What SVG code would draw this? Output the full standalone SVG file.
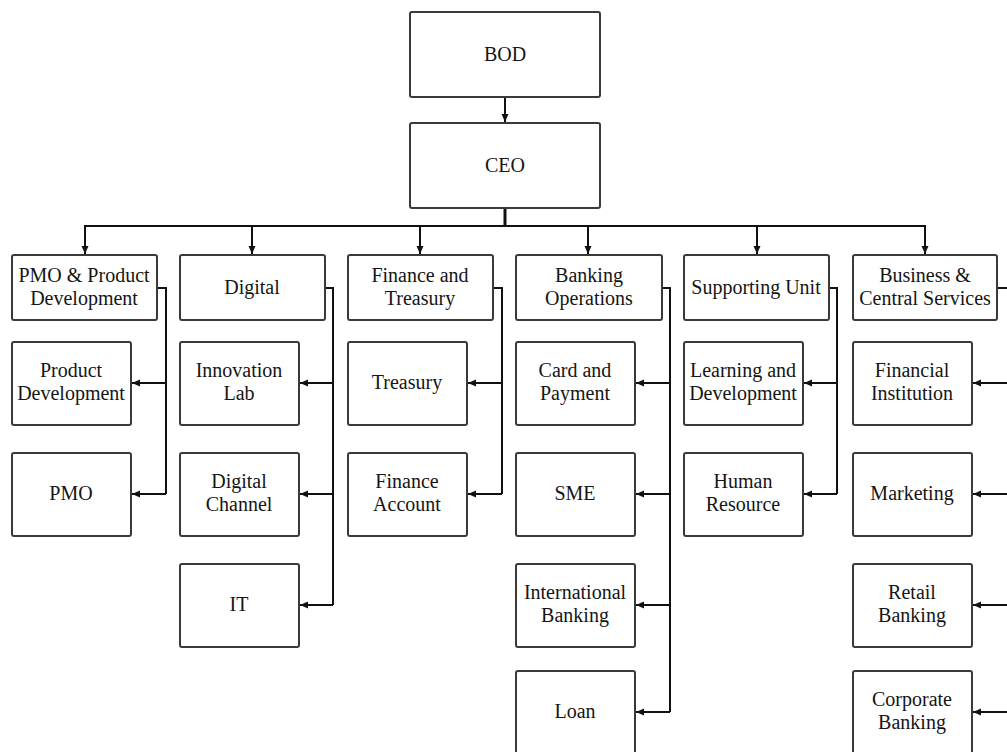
<svg xmlns="http://www.w3.org/2000/svg" width="1007" height="752" viewBox="0 0 1007 752">
<style>
.box{fill:#fff;stroke:#3a3a3a;stroke-width:2}
.t{font-family:"Liberation Serif","Times New Roman",serif;font-size:20px;fill:#151515;text-anchor:middle}
.c{fill:none;stroke:#111;stroke-width:2}
</style>
<defs>
<marker id="ah" markerUnits="userSpaceOnUse" markerWidth="9" markerHeight="8" refX="8" refY="3.5" orient="auto">
<path d="M0,0 L8,3.5 L0,7 z" fill="#111"/>
</marker>
</defs>
<rect width="1007" height="752" fill="#fff"/>
<g id="connectors">
<line class="c" x1="505" y1="97" x2="505" y2="122" marker-end="url(#ah)"/>
<line x1="505" y1="208" x2="505" y2="226" stroke="#111" stroke-width="3"/>
<line class="c" x1="84" y1="226" x2="926" y2="226"/>
<line class="c" x1="85" y1="226" x2="85" y2="254" marker-end="url(#ah)"/>
<line class="c" x1="252" y1="226" x2="252" y2="254" marker-end="url(#ah)"/>
<line class="c" x1="420" y1="226" x2="420" y2="254" marker-end="url(#ah)"/>
<line class="c" x1="588" y1="226" x2="588" y2="254" marker-end="url(#ah)"/>
<line class="c" x1="757" y1="226" x2="757" y2="254" marker-end="url(#ah)"/>
<line class="c" x1="925" y1="226" x2="925" y2="254" marker-end="url(#ah)"/>
<polyline class="c" points="157,288 166,288 166,494"/>
<line class="c" x1="166" y1="383" x2="132" y2="383" marker-end="url(#ah)"/>
<line class="c" x1="166" y1="494" x2="132" y2="494" marker-end="url(#ah)"/>
<polyline class="c" points="325,288 333,288 333,605"/>
<line class="c" x1="333" y1="383" x2="300" y2="383" marker-end="url(#ah)"/>
<line class="c" x1="333" y1="494" x2="300" y2="494" marker-end="url(#ah)"/>
<line class="c" x1="333" y1="605" x2="300" y2="605" marker-end="url(#ah)"/>
<polyline class="c" points="493,288 502,288 502,494"/>
<line class="c" x1="502" y1="383" x2="468" y2="383" marker-end="url(#ah)"/>
<line class="c" x1="502" y1="494" x2="468" y2="494" marker-end="url(#ah)"/>
<polyline class="c" points="662,288 670,288 670,712"/>
<line class="c" x1="670" y1="383" x2="636" y2="383" marker-end="url(#ah)"/>
<line class="c" x1="670" y1="494" x2="636" y2="494" marker-end="url(#ah)"/>
<line class="c" x1="670" y1="605" x2="636" y2="605" marker-end="url(#ah)"/>
<line class="c" x1="670" y1="712" x2="636" y2="712" marker-end="url(#ah)"/>
<polyline class="c" points="829,288 837,288 837,494"/>
<line class="c" x1="837" y1="383" x2="804" y2="383" marker-end="url(#ah)"/>
<line class="c" x1="837" y1="494" x2="804" y2="494" marker-end="url(#ah)"/>
<polyline class="c" points="997,288 1015,288 1015,712"/>
<line class="c" x1="1015" y1="383" x2="973" y2="383" marker-end="url(#ah)"/>
<line class="c" x1="1015" y1="494" x2="973" y2="494" marker-end="url(#ah)"/>
<line class="c" x1="1015" y1="605" x2="973" y2="605" marker-end="url(#ah)"/>
<line class="c" x1="1015" y1="712" x2="973" y2="712" marker-end="url(#ah)"/>
</g>
<g id="bod"><rect class="box" x="410" y="12" width="190" height="85" rx="2"/><text class="t" x="505" y="61">BOD</text></g>
<g id="ceo"><rect class="box" x="410" y="123" width="190" height="85" rx="2"/><text class="t" x="505" y="172">CEO</text></g>

<g id="pmo-product"><rect class="box" x="12" y="255" width="145" height="65" rx="2"/><text class="t" x="84" y="282">PMO &amp; Product</text><text class="t" x="84" y="305">Development</text></g>
<g id="digital"><rect class="box" x="180" y="255" width="145" height="65" rx="2"/><text class="t" x="252" y="294">Digital</text></g>
<g id="finance-treasury"><rect class="box" x="348" y="255" width="145" height="65" rx="2"/><text class="t" x="420" y="282">Finance and</text><text class="t" x="420" y="305">Treasury</text></g>
<g id="banking-operations"><rect class="box" x="516" y="255" width="146" height="65" rx="2"/><text class="t" x="589" y="282">Banking</text><text class="t" x="589" y="305">Operations</text></g>
<g id="supporting-unit"><rect class="box" x="684" y="255" width="145" height="65" rx="2"/><text class="t" x="756" y="294">Supporting Unit</text></g>
<g id="business-central"><rect class="box" x="853" y="255" width="144" height="65" rx="2"/><text class="t" x="925" y="282">Business &amp;</text><text class="t" x="925" y="305">Central Services</text></g>

<g id="product-development"><rect class="box" x="12" y="342" width="119" height="83" rx="2"/><text class="t" x="71" y="377">Product</text><text class="t" x="71" y="400">Development</text></g>
<g id="pmo"><rect class="box" x="12" y="453" width="119" height="83" rx="2"/><text class="t" x="71" y="500">PMO</text></g>

<g id="innovation-lab"><rect class="box" x="180" y="342" width="119" height="83" rx="2"/><text class="t" x="239" y="377">Innovation</text><text class="t" x="239" y="400">Lab</text></g>
<g id="digital-channel"><rect class="box" x="180" y="453" width="119" height="83" rx="2"/><text class="t" x="239" y="488">Digital</text><text class="t" x="239" y="511">Channel</text></g>
<g id="it"><rect class="box" x="180" y="564" width="119" height="83" rx="2"/><text class="t" x="239" y="611">IT</text></g>

<g id="treasury"><rect class="box" x="348" y="342" width="119" height="83" rx="2"/><text class="t" x="407" y="389">Treasury</text></g>
<g id="finance-account"><rect class="box" x="348" y="453" width="119" height="83" rx="2"/><text class="t" x="407" y="488">Finance</text><text class="t" x="407" y="511">Account</text></g>

<g id="card-payment"><rect class="box" x="516" y="342" width="119" height="83" rx="2"/><text class="t" x="575" y="377">Card and</text><text class="t" x="575" y="400">Payment</text></g>
<g id="sme"><rect class="box" x="516" y="453" width="119" height="83" rx="2"/><text class="t" x="575" y="500">SME</text></g>
<g id="international-banking"><rect class="box" x="516" y="564" width="119" height="83" rx="2"/><text class="t" x="575" y="599">International</text><text class="t" x="575" y="622">Banking</text></g>
<g id="loan"><rect class="box" x="516" y="671" width="119" height="90" rx="2"/><text class="t" x="575" y="718">Loan</text></g>

<g id="learning-development"><rect class="box" x="684" y="342" width="119" height="83" rx="2"/><text class="t" x="743" y="377">Learning and</text><text class="t" x="743" y="400">Development</text></g>
<g id="human-resource"><rect class="box" x="684" y="453" width="119" height="83" rx="2"/><text class="t" x="743" y="488">Human</text><text class="t" x="743" y="511">Resource</text></g>

<g id="financial-institution"><rect class="box" x="853" y="342" width="119" height="83" rx="2"/><text class="t" x="912" y="377">Financial</text><text class="t" x="912" y="400">Institution</text></g>
<g id="marketing"><rect class="box" x="853" y="453" width="119" height="83" rx="2"/><text class="t" x="912" y="500">Marketing</text></g>
<g id="retail-banking"><rect class="box" x="853" y="564" width="119" height="83" rx="2"/><text class="t" x="912" y="599">Retail</text><text class="t" x="912" y="622">Banking</text></g>
<g id="corporate-banking"><rect class="box" x="853" y="671" width="119" height="90" rx="2"/><text class="t" x="912" y="706">Corporate</text><text class="t" x="912" y="729">Banking</text></g>
</svg>
